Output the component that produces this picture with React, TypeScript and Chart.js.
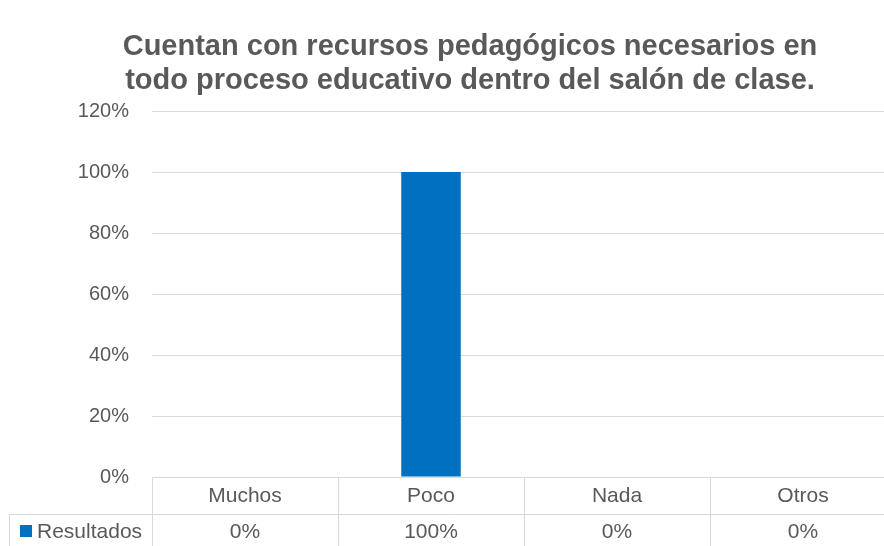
import React, { useEffect, useRef } from "react";
import { Chart, registerables } from "chart.js";

Chart.register(...registerables);

const titleLines = [
  "Cuentan con recursos pedagógicos necesarios en",
  "todo proceso educativo dentro del salón de clase.",
];
const categories = ["Muchos", "Poco", "Nada", "Otros"];
const seriesName = "Resultados";
const seriesValues = [0, 1, 0, 0];
const valueLabels = ["0%", "100%", "0%", "0%"];

const TEXT = "#595959";
const GRID = "#d9d9d9";
const BAR = "#0070C0";
const FONT = "'Liberation Sans', Arial, sans-serif";

const titlePlugin = {
  id: "customTitle",
  afterDraw(chart: any) {
    const ctx = chart.ctx;
    ctx.save();
    ctx.fillStyle = TEXT;
    ctx.font = `bold 29px ${FONT}`;
    ctx.textAlign = "center";
    ctx.textBaseline = "middle";
    titleLines.forEach((t, i) => ctx.fillText(t, 470, 47 + i * 34));
    ctx.restore();
  },
};

const tablePlugin = {
  id: "dataTable",
  afterDraw(chart: any) {
    const ctx = chart.ctx;
    const x = chart.scales.x;
    const area = chart.chartArea;
    const n = categories.length;
    const w = (area.right - area.left) / n;
    const top = area.bottom;
    const rowSplit = top + 37;
    const bottom = chart.height;
    ctx.save();
    ctx.strokeStyle = GRID;
    ctx.lineWidth = 1;
    for (let i = 0; i <= n; i++) {
      const px = Math.round(area.left + i * w) + 0.5;
      ctx.beginPath();
      ctx.moveTo(px, top);
      ctx.lineTo(px, bottom);
      ctx.stroke();
    }
    ctx.beginPath();
    ctx.moveTo(9.5, rowSplit);
    ctx.lineTo(9.5, bottom);
    ctx.stroke();
    ctx.beginPath();
    ctx.moveTo(9, rowSplit + 0.5);
    ctx.lineTo(area.right, rowSplit + 0.5);
    ctx.stroke();

    ctx.fillStyle = TEXT;
    ctx.font = `21px ${FONT}`;
    ctx.textAlign = "center";
    ctx.textBaseline = "middle";
    categories.forEach((c, i) => {
      const cx = x.getPixelForValue(i);
      ctx.fillText(c, cx, (top + rowSplit) / 2 + 1);
      ctx.fillText(valueLabels[i], cx, (rowSplit + bottom) / 2 + 2);
    });
    ctx.fillStyle = BAR;
    ctx.fillRect(20, rowSplit + 11, 12, 12);
    ctx.fillStyle = TEXT;
    ctx.textAlign = "left";
    ctx.fillText(seriesName, 37, (rowSplit + bottom) / 2 + 2);
    ctx.restore();
  },
};

export default function App() {
  const ref = useRef<HTMLCanvasElement>(null);
  useEffect(() => {
    document.body.style.margin = "0";
    const chart = new Chart(ref.current!, {
      type: "bar",
      data: {
        labels: categories,
        datasets: [
          {
            label: seriesName,
            data: seriesValues,
            backgroundColor: BAR,
            barPercentage: 0.32,
            categoryPercentage: 1,
          },
        ],
      },
      options: {
        animation: false,
        responsive: false,
        layout: { padding: { left: 0, right: 0, top: 111, bottom: 69 } },
        plugins: {
          legend: { display: false },
          tooltip: { enabled: false },
          title: { display: false },
        },
        scales: {
          x: {
            display: false,
            offset: true,
          },
          y: {
            min: 0,
            max: 1.2,
            afterFit: (s: any) => {
              s.width = 152;
            },
            ticks: {
              stepSize: 0.2,
              padding: 23,
              color: TEXT,
              font: { family: FONT, size: 20 },
              callback: (v: any) => Math.round(Number(v) * 100) + "%",
            },
            grid: { color: GRID, lineWidth: 1, drawTicks: false },
            border: { display: false },
          },
        },
      },
      plugins: [titlePlugin, tablePlugin],
    });
    return () => chart.destroy();
  }, []);
  return (
    <div style={{ width: 884, height: 546, overflow: "hidden" }}>
      <canvas ref={ref} width={896} height={546} />
    </div>
  );
}
